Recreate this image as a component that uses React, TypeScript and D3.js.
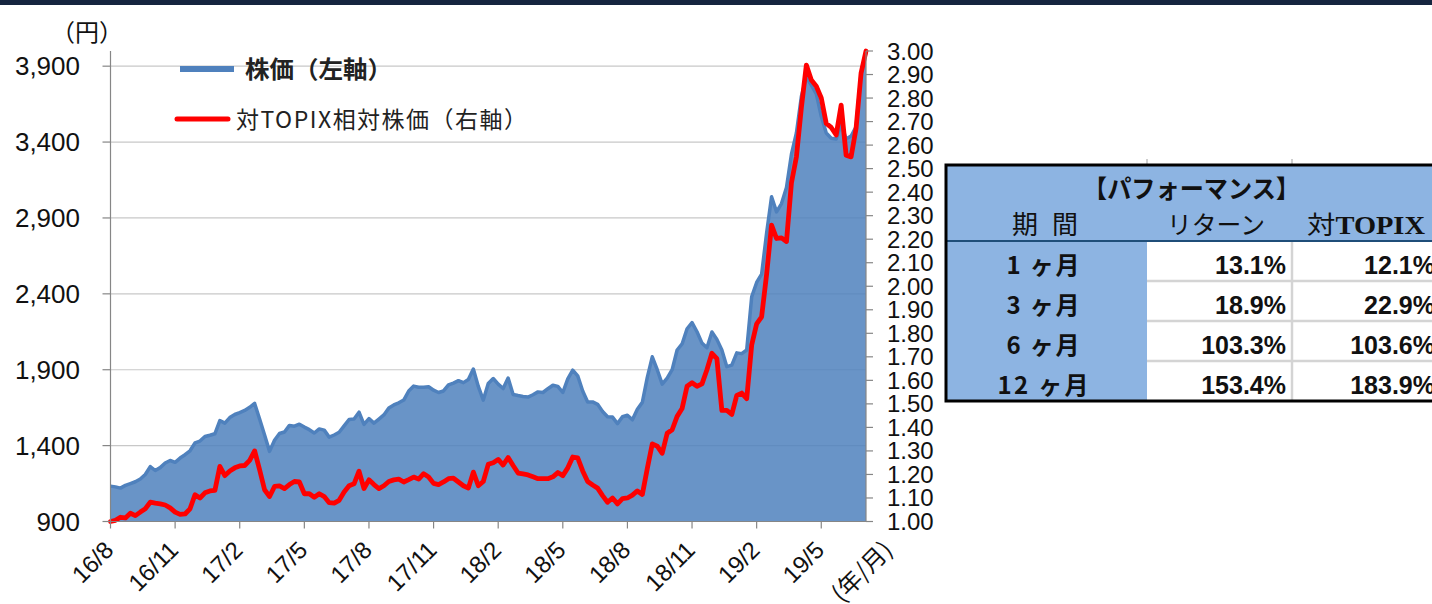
import React from 'react';
import * as d3 from 'd3';

// ---- data (weekly, Aug 2016 - Jul 2019) ----
const stockPrice: number[] = [
  1133, 1128, 1120, 1138, 1150, 1162, 1180, 1210, 1262, 1236,
  1255, 1285, 1302, 1290, 1318, 1340, 1366, 1418, 1430, 1460,
  1468, 1478, 1565, 1548, 1585, 1605, 1618, 1632, 1652, 1678,
  1575, 1470, 1362, 1435, 1480, 1490, 1533, 1528, 1541, 1522,
  1505, 1483, 1510, 1502, 1456, 1470, 1488, 1530, 1572, 1575,
  1620, 1540, 1578, 1548, 1575, 1602, 1648, 1668, 1682, 1700,
  1760, 1792, 1785, 1784, 1788, 1765, 1750, 1760, 1800, 1812,
  1828, 1815, 1835, 1905, 1790, 1700, 1810, 1842, 1805, 1776,
  1845, 1737, 1730, 1724, 1720, 1735, 1754, 1750, 1775, 1798,
  1790, 1750, 1840, 1897, 1860, 1760, 1688, 1688, 1672, 1625,
  1590, 1588, 1545, 1590, 1600, 1570, 1640, 1685, 1850, 1985,
  1900, 1805, 1845, 1900, 2030, 2070, 2170, 2210, 2150, 2075,
  2045, 2149, 2100, 2030, 1920, 1930, 2011, 2006, 2030, 2380,
  2475, 2530, 2800, 3040, 2940, 2995, 3100, 3320, 3460, 3700,
  3827, 3775, 3717, 3570, 3460, 3425, 3420, 3520, 3420, 3440,
  3500, 3850, 3990,
];

const relativePrice: number[] = [
  1.000, 1.005, 1.018, 1.015, 1.035, 1.025, 1.040, 1.054, 1.082, 1.078,
  1.075, 1.070, 1.058, 1.040, 1.030, 1.032, 1.054, 1.114, 1.100, 1.122,
  1.130, 1.132, 1.234, 1.195, 1.215, 1.228, 1.236, 1.238, 1.260, 1.300,
  1.220, 1.135, 1.106, 1.149, 1.151, 1.140, 1.157, 1.170, 1.168, 1.118,
  1.118, 1.103, 1.118, 1.106, 1.080, 1.078, 1.090, 1.125, 1.152, 1.160,
  1.214, 1.140, 1.177, 1.157, 1.140, 1.152, 1.170, 1.177, 1.180, 1.168,
  1.178, 1.189, 1.180, 1.203, 1.189, 1.162, 1.157, 1.168, 1.182, 1.184,
  1.168, 1.152, 1.142, 1.210, 1.152, 1.170, 1.243, 1.250, 1.264, 1.240,
  1.272, 1.238, 1.206, 1.202, 1.198, 1.190, 1.182, 1.182, 1.182, 1.190,
  1.208, 1.195, 1.228, 1.274, 1.270, 1.215, 1.170, 1.155, 1.142, 1.110,
  1.082, 1.100, 1.075, 1.097, 1.100, 1.112, 1.130, 1.115, 1.225, 1.330,
  1.320, 1.290, 1.375, 1.390, 1.447, 1.480, 1.575, 1.590, 1.575, 1.585,
  1.645, 1.715, 1.692, 1.472, 1.472, 1.455, 1.536, 1.546, 1.522, 1.750,
  1.840, 1.870, 2.050, 2.260, 2.203, 2.206, 2.190, 2.440, 2.550, 2.760,
  2.940, 2.877, 2.850, 2.800, 2.692, 2.675, 2.643, 2.770, 2.557, 2.550,
  2.671, 2.905, 3.000,
];

const xTickIndex: number[] = [0, 13, 26, 39, 52, 65, 78, 91, 104, 117, 130, 143];
const xTickLabels: string[] = ['16/8', '16/11', '17/2', '17/5', '17/8', '17/11', '18/2', '18/5', '18/8', '18/11', '19/2', '19/5'];
const leftTicks: number[] = [900, 1400, 1900, 2400, 2900, 3400, 3900];
const rightTicks: number[] = [1.0, 1.1, 1.2, 1.3, 1.4, 1.5, 1.6, 1.7, 1.8, 1.9, 2.0, 2.1, 2.2, 2.3, 2.4, 2.5, 2.6, 2.7, 2.8, 2.9, 3.0];

const perfPeriods: string[] = ['1 ヶ月', '3 ヶ月', '6 ヶ月', '12 ヶ月'];
const perfReturn: string[] = ['13.1%', '18.9%', '103.3%', '153.4%'];
const perfVsTopix: string[] = ['12.1%', '22.9%', '103.6%', '183.9%'];

const SANS = "'Liberation Sans', Arial, sans-serif";
const JP = "'Noto Sans CJK JP', 'Liberation Sans', sans-serif";

export default function App() {
  const W = 1432, H = 604;
  const left = 110.5, right = 866, top = 51, bottom = 521.5;
  const x = d3.scaleLinear().domain([0, stockPrice.length - 1]).range([left, right]);
  const yL = d3.scaleLinear().domain([900, 4000]).range([bottom, top]);
  const yR = d3.scaleLinear().domain([1, 3]).range([bottom, top]);

  const area = d3.area<number>().x((_, i) => x(i)).y0(bottom).y1((d) => yL(d));
  const lineL = d3.line<number>().x((_, i) => x(i)).y((d) => yL(d));
  const lineR = d3.line<number>().x((_, i) => x(i)).y((d) => yR(d));
  const fmt = d3.format(',');

  // table geometry
  const tL = 946, tR = 1436, tT = 165, tB = 401;
  const c1 = 1147, c2 = 1292;
  const hdrB = 241;
  const rowH = (tB - hdrB) / 4;
  const periodLen = [73, 73, 73, 91];

  return (
    <svg width={W} height={H} style={{ position: 'absolute', left: 0, top: 0, background: '#fff' }}>
      <rect x={0} y={0} width={W} height={H} fill="#fff" />
      <rect x={0} y={0} width={W} height={5} fill="#15253f" />

      {/* gridlines */}
      {leftTicks.slice(1).map((t) => (
        <line key={t} x1={left} x2={right} y1={yL(t)} y2={yL(t)} stroke="#c8c8c8" strokeWidth={1.2} />
      ))}

      {/* area + lines */}
      <path d={area(stockPrice) || ''} fill="#4f81bd" fillOpacity={0.85} />
      <path d={lineL(stockPrice) || ''} fill="none" stroke="#4f81bd" strokeWidth={3.5} strokeLinejoin="round" />
      <path d={lineR(relativePrice) || ''} fill="none" stroke="#ff0000" strokeWidth={4.8} strokeLinejoin="round" strokeLinecap="round" />

      {/* axes */}
      <line x1={left} x2={left} y1={top} y2={bottom} stroke="#868686" strokeWidth={1.2} />
      <line x1={right} x2={right} y1={top} y2={bottom} stroke="#868686" strokeWidth={1.2} />
      <line x1={left} x2={right} y1={bottom} y2={bottom} stroke="#868686" strokeWidth={1.2} />
      {leftTicks.map((t) => (
        <g key={t}>
          <line x1={left - 8} x2={left} y1={yL(t)} y2={yL(t)} stroke="#868686" strokeWidth={1.2} />
          <text x={80} y={yL(t) + 9} textAnchor="end" fontFamily={SANS} fontSize={26} fill="#111">{fmt(t)}</text>
        </g>
      ))}
      {rightTicks.map((t) => (
        <g key={t}>
          <line x1={right} x2={right + 7} y1={yR(t)} y2={yR(t)} stroke="#868686" strokeWidth={1.2} />
          <text x={887} y={yR(t) + 8.5} textAnchor="start" fontFamily={SANS} fontSize={24} fill="#111">{t.toFixed(2)}</text>
        </g>
      ))}
      {xTickIndex.map((idx, k) => (
        <g key={idx}>
          <line x1={x(idx)} x2={x(idx)} y1={bottom} y2={bottom + 7} stroke="#868686" strokeWidth={1.2} />
          <text transform={`translate(${x(idx) + 4.5},551.5) rotate(-45)`} textAnchor="end" fontFamily={SANS} fontSize={24} fill="#111">{xTickLabels[k]}</text>
        </g>
      ))}
      <text transform="translate(894,551.5) rotate(-45)" textAnchor="end" fontFamily={JP} fontSize={24} fill="#111">(年/月)</text>
      <text x={51} y={41} fontFamily={JP} fontSize={24} fill="#111">（円）</text>

      {/* legend */}
      <line x1={180} x2={234} y1={69} y2={69} stroke="#4f81bd" strokeWidth={6} />
      <text x={245} y={78} fontFamily={JP} fontSize={24} fontWeight="bold" fill="#222" textLength={147} lengthAdjust="spacingAndGlyphs">株価（左軸）</text>
      <line x1={177} x2={228} y1={119} y2={119} stroke="#ff0000" strokeWidth={5} strokeLinecap="round" />
      <text x={236} y={128} fontFamily={JP} fontSize={23} fill="#222" textLength={291} lengthAdjust="spacing">対TOPIX相対株価（右軸）</text>

      {/* performance table */}
      <rect x={tL} y={tT} width={tR - tL} height={tB - tT} fill="#8db4e2" />
      <rect x={c1} y={hdrB} width={tR - c1} height={tB - hdrB} fill="#fff" />
      <line x1={c1} x2={c1} y1={159} y2={tT} stroke="#bfbfbf" strokeWidth={1.5} />
      <line x1={c2} x2={c2} y1={159} y2={tT} stroke="#bfbfbf" strokeWidth={1.5} />
      {[1, 2, 3].map((r) => (
        <line key={r} x1={c1} x2={tR} y1={hdrB + r * rowH} y2={hdrB + r * rowH} stroke="#d4d4d4" strokeWidth={2.5} />
      ))}
      <line x1={c2} x2={c2} y1={hdrB} y2={tB} stroke="#d4d4d4" strokeWidth={2.5} />
      <line x1={tL} x2={tR} y1={hdrB} y2={hdrB} stroke="#1f4e79" strokeWidth={2} />
      <rect x={tL} y={tT} width={tR - tL} height={tB - tT} fill="none" stroke="#000" strokeWidth={3} />

      <text x={1191.5} y={198} textAnchor="middle" fontFamily={JP} fontSize={25} fontWeight="bold" fill="#111" textLength={217} lengthAdjust="spacingAndGlyphs">【パフォーマンス】</text>
      <text x={1045} y={234} textAnchor="middle" fontFamily={JP} fontSize={26} fill="#111" textLength={66} lengthAdjust="spacing">期 間</text>
      <text x={1216} y={234} textAnchor="middle" fontFamily={JP} fontSize={25} fill="#111" textLength={98} lengthAdjust="spacingAndGlyphs">リターン</text>
      <text x={1366} y={234} textAnchor="middle" fontSize={25} fill="#111" textLength={118} lengthAdjust="spacingAndGlyphs">
        <tspan fontFamily={JP}>対</tspan>
        <tspan fontFamily="'Liberation Serif', serif" fontWeight="bold">TOPIX</tspan>
      </text>
      {perfPeriods.map((p, r) => (
        <text key={p} x={1043} y={hdrB + r * rowH + 33} textAnchor="middle" fontFamily={JP} fontSize={24} fontWeight="bold" fill="#111" textLength={periodLen[r]} lengthAdjust="spacing">{p}</text>
      ))}
      {perfReturn.map((v, r) => (
        <text key={'r' + r} x={1286} y={hdrB + r * rowH + 33} textAnchor="end" fontFamily={SANS} fontSize={25} fontWeight="bold" fill="#111">{v}</text>
      ))}
      {perfVsTopix.map((v, r) => (
        <text key={'t' + r} x={1435} y={hdrB + r * rowH + 33} textAnchor="end" fontFamily={SANS} fontSize={25} fontWeight="bold" fill="#111">{v}</text>
      ))}
    </svg>
  );
}
